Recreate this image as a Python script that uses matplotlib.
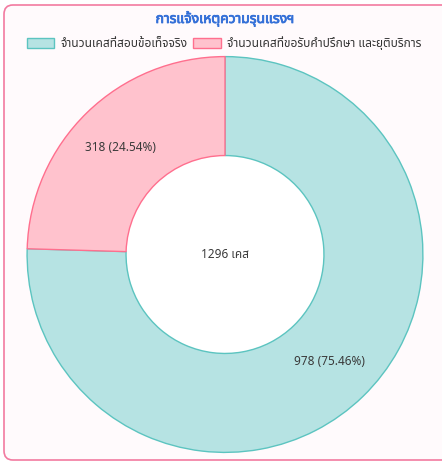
import matplotlib
matplotlib.use("Agg")
import matplotlib.pyplot as plt
import matplotlib.patheffects as pe
from matplotlib import font_manager, ft2font
from matplotlib.patches import FancyBboxPatch, Patch
import numpy as np

# ---- data ----
title = "การแจ้งเหตุความรุนแรงฯ"
categories = ["จำนวนเคสที่สอบข้อเท็จจริง", "จำนวนเคสที่ขอรับคำปรึกษา และยุติบริการ"]
values = [978, 318]
center_label = "1296 เคส"
fill_colors = ["#b6e3e3", "#ffc2cd"]
edge_colors = ["#5cc4c0", "#ff6f8e"]

# ---- pick a font that has Thai glyphs ----
def has_thai(path):
    try:
        f = ft2font.FT2Font(path)
        return 0x0E08 in f.get_charmap()
    except Exception:
        return False

thai_family = None
pref = ["Noto Sans Thai", "Noto Sans Thai UI", "Noto Sans", "DejaVu Sans", "Tahoma", "Loma"]
fams = {}
for fe in font_manager.fontManager.ttflist:
    if has_thai(fe.fname):
        fams.setdefault(fe.name, fe.fname)
for p in pref:
    if p in fams:
        thai_family = p
        break
if thai_family is None and fams:
    thai_family = sorted(fams)[0]
families = ([thai_family] if thai_family else []) + ["DejaVu Sans"]
plt.rcParams["font.family"] = families

W, H = 442, 461
fig = plt.figure(figsize=(W / 100, H / 100), dpi=100)
fig.patch.set_facecolor("white")

# card background
card = FancyBboxPatch((4 / W, 1 / H), (W + 20) / W, (H - 6) / H,
                      boxstyle="round,pad=0,rounding_size=0.02",
                      transform=fig.transFigure, facecolor="#fffafc",
                      edgecolor="#f27aa0", linewidth=1.2, zorder=-10)
fig.patches.append(card)

R = 198.5
cx, cy = 225, H - 254.5
ax = fig.add_axes([(cx - R) / W, (cy - R) / H, 2 * R / W, 2 * R / H])
ax.patch.set_alpha(0)

wedges, _ = ax.pie(values, radius=1.0, startangle=90, counterclock=False,
                   colors=fill_colors,
                   wedgeprops=dict(width=0.5, linewidth=1.0))
for w, ec in zip(wedges, edge_colors):
    w.set_edgecolor(ec)
ax.add_patch(plt.Circle((0, 0), 0.5, facecolor="white", edgecolor="none", zorder=0.5))
ax.set_xlim(-1.003, 1.003)
ax.set_ylim(-1.003, 1.003)
ax.set_aspect("equal")
ax.axis("off")

total = sum(values)
for w, v in zip(wedges, values):
    ang = np.deg2rad((w.theta1 + w.theta2) / 2)
    r = 0.755
    ax.text(r * np.cos(ang), r * np.sin(ang), f"{v} ({v / total * 100:.2f}%)",
            ha="center", va="center", fontsize=8.5, color="#3a3a3a")
ax.text(0, 0, center_label, ha="center", va="center", fontsize=8.5, color="#3a3a3a")

fig.text(225 / W, 1 - 19 / H, title, ha="center", va="center", fontsize=10,
         fontweight="bold", color="#3470d8",
         path_effects=[pe.withStroke(linewidth=0.6, foreground="#3470d8")])

handles = [Patch(facecolor=f, edgecolor=e, linewidth=1.0) for f, e in zip(fill_colors, edge_colors)]
fig.legend(handles, categories, loc="center", bbox_to_anchor=(224 / W, 1 - 43 / H),
           ncol=2, frameon=False, fontsize=8.6, handlelength=2.3, handleheight=0.9,
           handletextpad=0.5, columnspacing=0.5, labelcolor="#333333")

fig.savefig("out.png", dpi=100, facecolor=fig.get_facecolor())
